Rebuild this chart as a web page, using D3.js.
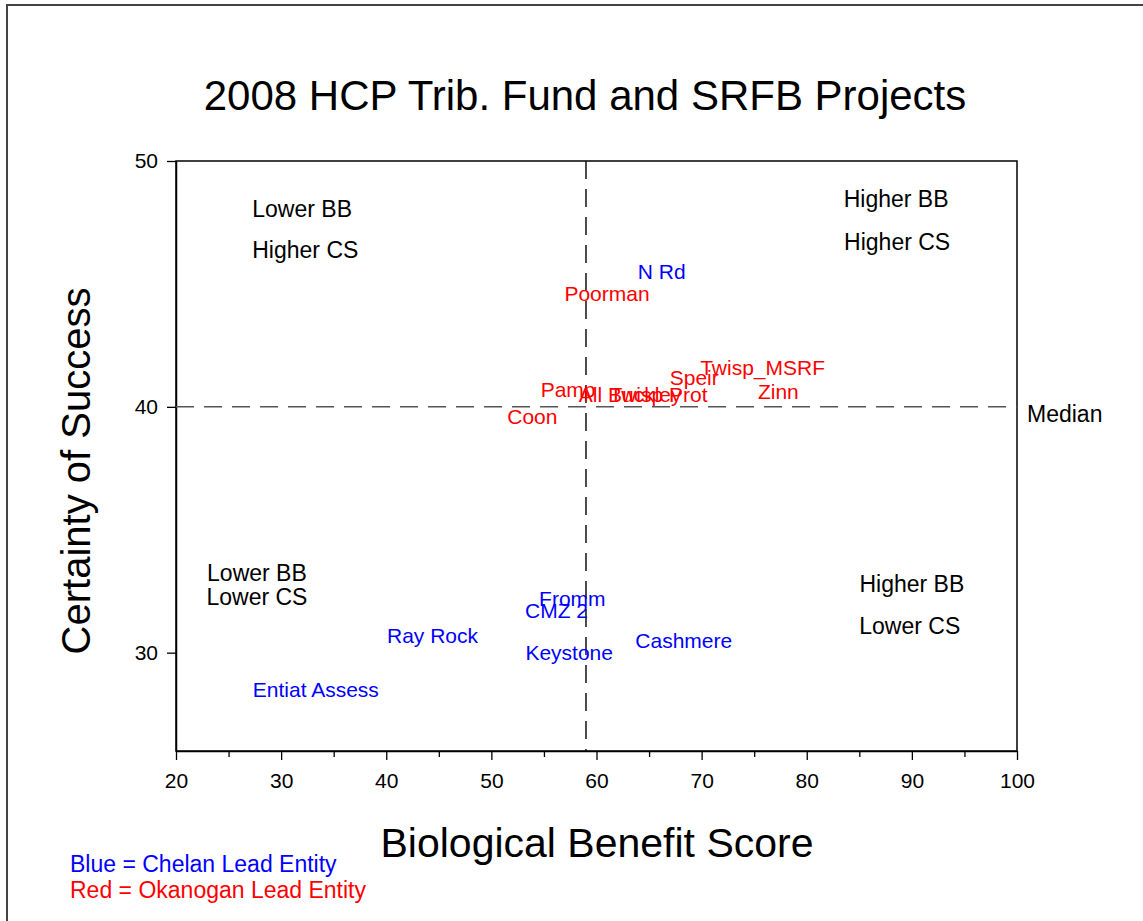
<!DOCTYPE html>
<html>
<head>
<meta charset="utf-8">
<script src="https://cdn.jsdelivr.net/npm/d3@7"></script>
<style>
  body { margin: 0; background: #fff; }
  svg text { font-family: "Liberation Sans", Arial, sans-serif; }
</style>
</head>
<body>
<div class="chart-wrapper"></div>
<script>
// project labels, Chelan (blue)
const chelanNames = ['N Rd', 'Fromm', 'CMZ 2', 'Ray Rock', 'Keystone', 'Cashmere', 'Entiat Assess']
const chelanBB = [66.2, 57.7, 56.2, 44.4, 57.4, 68.3, 33.3]
const chelanCS = [45.5, 32.2, 31.7, 30.7, 30.0, 30.5, 28.5]

// project labels, Okanogan (red)
const okanoganNames = ['Poorman', 'Twisp_MSRF', 'Speir', 'Zinn', 'Pamp', 'All Buckley', 'Twisp Prot', 'Coon']
const okanoganBB = [61.0, 75.8, 69.3, 77.3, 57.3, 63.2, 65.9, 53.9]
const okanoganCS = [44.6, 41.6, 41.2, 40.6, 40.7, 40.5, 40.5, 39.6]

// quadrant notes
const quadText = ['Lower BB', 'Higher CS', 'Higher BB', 'Higher CS', 'Lower BB', 'Lower CS', 'Higher BB', 'Lower CS']
const quadBB = [32.0, 32.3, 88.5, 88.6, 27.7, 27.7, 90.0, 89.8]
const quadCS = [48.05, 46.4, 48.45, 46.7, 33.25, 32.25, 32.8, 31.1]

const medianBB = 59
const medianCS = 40

const xTicks = [20, 30, 40, 50, 60, 70, 80, 90, 100]
const xMinorTicks = [25, 35, 45, 55, 65, 75, 85, 95]
const yTicks = [30, 40, 50]

const width = 1143
const height = 921
const plot = { left: 176, right: 1017, top: 161, bottom: 751 }

const svg = d3.select('.chart-wrapper')
    .append('svg')
    .attr('width', width)
    .attr('height', height)

// outer frame (left and top edges only, as cropped)
svg.append('path')
    .attr('d', `M7,${height} V5 H${width}`)
    .attr('fill', 'none')
    .attr('stroke', '#444')
    .attr('stroke-width', 2)

const x = d3.scaleLinear().domain([20, 100]).range([plot.left, plot.right])
const y = d3.scaleLinear().domain([26, 50]).range([plot.bottom, plot.top])

// plot frame
svg.append('rect')
    .attr('x', plot.left)
    .attr('y', plot.top)
    .attr('width', plot.right - plot.left)
    .attr('height', plot.bottom - plot.top)
    .attr('fill', 'none')
    .attr('stroke', '#000')
    .attr('stroke-width', 1.5)

svg.append('g')
    .attr('transform', `translate(0,${plot.bottom})`)
    .call(d3.axisBottom(x).tickValues(xTicks).tickSize(9).tickPadding(13).tickSizeOuter(0))

svg.append('g')
    .attr('transform', `translate(0,${plot.bottom})`)
    .call(d3.axisBottom(x).tickValues(xMinorTicks).tickSize(6).tickFormat('').tickSizeOuter(0))
    .call(g => g.select('.domain').remove())

svg.append('g')
    .attr('transform', `translate(${plot.left},0)`)
    .call(d3.axisLeft(y).tickValues(yTicks).tickSize(9).tickPadding(9).tickSizeOuter(0))

svg.selectAll('.tick line').attr('stroke', '#000').attr('stroke-width', 1.3)
svg.selectAll('.domain').attr('stroke', '#000').attr('stroke-width', 1.5)
svg.selectAll('.tick text')
    .attr('font-size', 21)
    .attr('fill', '#000')
    .style('font-family', '"Liberation Sans", Arial, sans-serif')

// median lines
svg.append('line')
    .attr('x1', plot.left).attr('x2', plot.right)
    .attr('y1', y(medianCS)).attr('y2', y(medianCS))
    .attr('stroke', '#555')
    .attr('stroke-width', 1.5)
    .attr('stroke-dasharray', '18,10')

svg.append('line')
    .attr('x1', x(medianBB)).attr('x2', x(medianBB))
    .attr('y1', plot.top).attr('y2', plot.bottom)
    .attr('stroke', '#111')
    .attr('stroke-width', 1.5)
    .attr('stroke-dasharray', '18,10')

svg.append('text')
    .attr('x', plot.right + 10)
    .attr('y', y(medianCS) + 7)
    .attr('dy', '0.35em')
    .attr('font-size', 23)
    .text('Median')

// quadrant notes
svg.selectAll('.quad')
    .data(quadText)
    .enter().append('text')
    .attr('class', 'quad')
    .attr('x', (d, i) => x(quadBB[i]))
    .attr('y', (d, i) => y(quadCS[i]))
    .attr('dy', '0.35em')
    .attr('text-anchor', 'middle')
    .attr('font-size', 23)
    .attr('fill', '#000')
    .text(d => d)

// project labels
const drawLabels = (names, bb, cs, colour, cls) => {
    svg.selectAll('.' + cls)
        .data(names)
        .enter().append('text')
        .attr('class', cls)
        .attr('x', (d, i) => x(bb[i]))
        .attr('y', (d, i) => y(cs[i]))
        .attr('dy', '0.35em')
        .attr('text-anchor', 'middle')
        .attr('font-size', 21)
        .attr('fill', colour)
        .text(d => d)
}

drawLabels(chelanNames, chelanBB, chelanCS, '#0000ff', 'chelan')
drawLabels(okanoganNames, okanoganBB, okanoganCS, '#ff0000', 'okanogan')

// titles
svg.append('text')
    .attr('x', 585)
    .attr('y', 95)
    .attr('dy', '0.35em')
    .attr('text-anchor', 'middle')
    .attr('font-size', 42)
    .text('2008 HCP Trib. Fund and SRFB Projects')

svg.append('text')
    .attr('x', 597)
    .attr('y', 843)
    .attr('dy', '0.35em')
    .attr('text-anchor', 'middle')
    .attr('font-size', 41)
    .text('Biological Benefit Score')

svg.append('text')
    .attr('transform', `translate(76,${471}) rotate(-90)`)
    .attr('dy', '0.35em')
    .attr('text-anchor', 'middle')
    .attr('font-size', 40)
    .text('Certainty of Success')

// legend
svg.append('text')
    .attr('x', 70).attr('y', 864)
    .attr('dy', '0.35em')
    .attr('font-size', 23)
    .attr('fill', '#0000ff')
    .text('Blue = Chelan Lead Entity')

svg.append('text')
    .attr('x', 70).attr('y', 890)
    .attr('dy', '0.35em')
    .attr('font-size', 23)
    .attr('fill', '#ff0000')
    .text('Red = Okanogan Lead Entity')
</script>
</body>
</html>
